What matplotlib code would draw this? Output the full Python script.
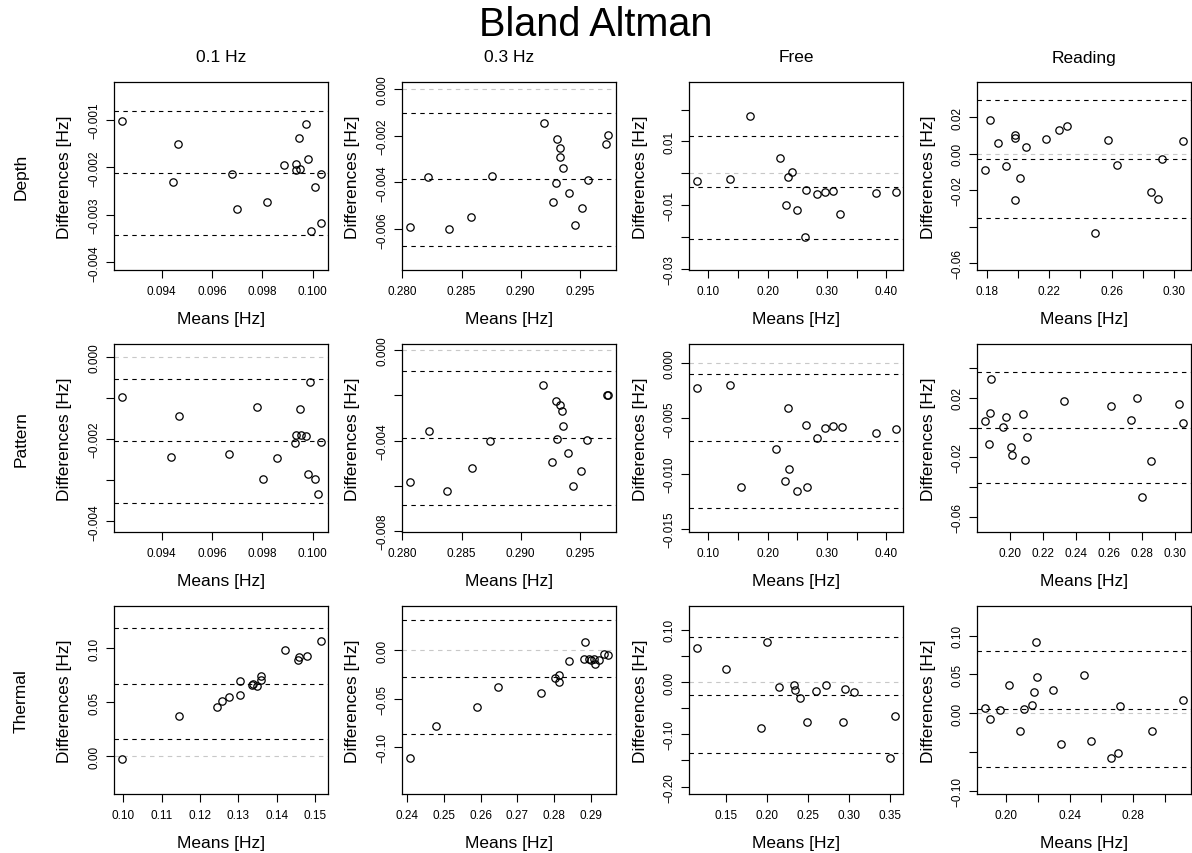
'''
Bland Altman grid: three methods x four conditions.
'''

import matplotlib
matplotlib.use("Agg")
import matplotlib.pyplot as plt

plt.rcParams["font.family"] = ["Liberation Sans", "DejaVu Sans"]

methods = ["Depth", "Pattern", "Thermal"]
conditions = ["0.1 Hz", "0.3 Hz", "Free", "Reading"]

# ---- Depth ----
depth_01_means = [0.09243, 0.09466, 0.09444, 0.09681, 0.09701, 0.09819, 0.09886, 0.09933, 0.09935,
                  0.09951, 0.09946, 0.09974, 0.09981, 0.09993, 0.10032, 0.10010, 0.10032]
depth_01_diffs = [-0.00102, -0.00152, -0.00231, -0.00214, -0.00287, -0.00272, -0.00196, -0.00205, -0.00194,
                  -0.00203, -0.00139, -0.00108, -0.00183, -0.00334, -0.00214, -0.00242, -0.00318]
depth_01_limits = [-0.002126, -0.000818, -0.003418]  # bias, upper, lower

depth_03_means = [0.28062, 0.28215, 0.28397, 0.28578, 0.28755, 0.29194, 0.29304, 0.29329, 0.29335,
                  0.29360, 0.29301, 0.29276, 0.29405, 0.29456, 0.29520, 0.29568, 0.29723, 0.29737]
depth_03_diffs = [-0.005902, -0.003774, -0.005986, -0.005475, -0.003716, -0.001461, -0.002156, -0.002511,
                  -0.002908, -0.003376, -0.004043, -0.004851, -0.004468, -0.005816, -0.005092, -0.003915,
                  -0.002355, -0.001957]
depth_03_limits = [-0.003872, -0.001021, -0.006709]

depth_free_means = [0.08094, 0.1371, 0.1698, 0.2204, 0.2339, 0.2411, 0.2310, 0.2491, 0.2626, 0.2643,
                    0.2828, 0.2963, 0.3103, 0.3226, 0.3828, 0.4160]
depth_free_diffs = [-0.002385, -0.001875, 0.01803, 0.004698, -0.00125, 0.00053, -0.01009, -0.01145,
                    -0.01989, -0.00541, -0.00666, -0.00603, -0.00561, -0.01270, -0.00614, -0.00594]
depth_free_limits = [-0.004375, 0.01178, -0.02072]

depth_read_means = [0.17839, 0.1818, 0.1868, 0.1919, 0.1981, 0.1981, 0.2009, 0.1981, 0.2050, 0.2176,
                    0.2264, 0.2313, 0.2491, 0.2575, 0.2635, 0.2853, 0.2900, 0.2926, 0.3059]
depth_read_diffs = [-0.00910, 0.01853, 0.00599, -0.00690, 0.01017, 0.00853, -0.01326, -0.02525, 0.00381,
                    0.00781, 0.01308, 0.01508, -0.04323, 0.00727, -0.00636, -0.02107, -0.02507, -0.00291,
                    0.00690]
depth_read_limits = [-0.002725, 0.02943, -0.03542]

# ---- Pattern ----
pattern_01_means = [0.09243, 0.09469, 0.09436, 0.09666, 0.09779, 0.09804, 0.09858, 0.09930, 0.09934,
                    0.09951, 0.09955, 0.09974, 0.09983, 0.09990, 0.10032, 0.10010, 0.10023]
pattern_01_diffs = [-0.000979, -0.001434, -0.00243, -0.002372, -0.00123, -0.00298, -0.00246, -0.002097,
                    -0.00191, -0.001264, -0.001895, -0.001927, -0.00286, -0.000622, -0.00208, -0.00298,
                    -0.00333]
pattern_01_limits = [-0.002056, -0.000549, -0.003548]

pattern_03_means = [0.28065, 0.28223, 0.28380, 0.28586, 0.28738, 0.29188, 0.29301, 0.29332, 0.29346,
                    0.29360, 0.29307, 0.29267, 0.29400, 0.29444, 0.29507, 0.29563, 0.29731, 0.29737]
pattern_03_diffs = [-0.00584, -0.00359, -0.00623, -0.00522, -0.00402, -0.001545, -0.002238, -0.002415,
                    -0.002693, -0.003342, -0.00393, -0.00496, -0.00455, -0.00599, -0.00536, -0.00396,
                    -0.001987, -0.00201]
pattern_03_limits = [-0.003885, -0.00094, -0.006843]

pattern_free_means = [0.08094, 0.1371, 0.1546, 0.2339, 0.2142, 0.2356, 0.2288, 0.2491, 0.2665, 0.2643,
                      0.2828, 0.2963, 0.3103, 0.3260, 0.3828, 0.4160]
pattern_free_diffs = [-0.00224, -0.00197, -0.01125, -0.00408, -0.00774, -0.00961, -0.01070, -0.01161,
                      -0.01125, -0.00560, -0.00677, -0.00590, -0.00566, -0.00580, -0.00632, -0.00593]
pattern_free_limits = [-0.007046, -0.00097, -0.013095]

pattern_read_means = [0.18470, 0.18809, 0.18851, 0.18730, 0.19559, 0.19740, 0.20079, 0.20139, 0.20768,
                      0.20889, 0.21028, 0.23284, 0.26126, 0.27336, 0.27681, 0.27965, 0.28527, 0.30239,
                      0.30462]
pattern_read_diffs = [0.0043, 0.00966, 0.03268, -0.01094, 0.00067, 0.00718, -0.01315, -0.01852, 0.0094,
                      -0.02148, -0.00644, 0.01812, 0.01436, 0.00497, 0.01973, -0.04671, -0.02215, 0.0157,
                      0.00315]
pattern_read_limits = [0.0001, 0.03718, -0.03691]

# ---- Thermal ----
thermal_01_means = [0.09974, 0.11445, 0.12452, 0.12583, 0.12750, 0.13037, 0.13052, 0.13350, 0.13392,
                    0.13480, 0.13585, 0.13585, 0.14227, 0.14550, 0.14576, 0.14785, 0.15150]
thermal_01_diffs = [-0.0025, 0.03759, 0.04593, 0.05093, 0.05491, 0.06944, 0.05704, 0.06602, 0.06722,
                    0.06537, 0.07435, 0.07065, 0.09815, 0.08944, 0.09167, 0.09259, 0.10676]
thermal_01_limits = [0.06694, 0.11852, 0.01574]

thermal_03_means = [0.24065, 0.24791, 0.25909, 0.26473, 0.27654, 0.28028, 0.28145, 0.28129, 0.28401,
                    0.28846, 0.28810, 0.28947, 0.29018, 0.29083, 0.29127, 0.29236, 0.29356, 0.29473]
thermal_03_diffs = [-0.11138, -0.07797, -0.05864, -0.03764, -0.04385, -0.02865, -0.02585, -0.03309,
                    -0.01075, 0.00889, -0.009, -0.0093, -0.01003, -0.009, -0.01417, -0.01003, -0.00352,
                    -0.00517]
thermal_03_limits = [-0.0273, 0.03164, -0.08625]

thermal_free_means = [0.11463, 0.15037, 0.19963, 0.19305, 0.21427, 0.23329, 0.23451, 0.24024, 0.24915,
                      0.26012, 0.27159, 0.29305, 0.29512, 0.30610, 0.34963, 0.35646]
thermal_free_diffs = [0.06501, 0.02428, 0.07648, -0.08795, -0.01013, -0.00516, -0.0153, -0.03117,
                      -0.07648, -0.01721, -0.00516, -0.07648, -0.01338, -0.01855, -0.14474, -0.06501]
thermal_free_limits = [-0.02486, 0.08547, -0.13518]

thermal_read_means = [0.18679, 0.18994, 0.19642, 0.20208, 0.20881, 0.21113, 0.21654, 0.21742, 0.21931,
                      0.21887, 0.22937, 0.23478, 0.24887, 0.25346, 0.26585, 0.27044, 0.27170, 0.29201,
                      0.31113]
thermal_read_diffs = [0.00644, -0.00695, 0.00425, 0.03605, -0.02318, 0.00592, 0.01069, 0.02781, 0.04635,
                      0.0918, 0.03, -0.03914, 0.04893, -0.03566, -0.05717, -0.05111, 0.00901, -0.0224,
                      0.01674]
thermal_read_limits = [0.00515, 0.07983, -0.06914]

# ---- tick values and labels ("" = tick without label, as R drops overlapping ones) ----
x_01 = [0.094, 0.096, 0.098, 0.100]
x_01_lab = ["0.094", "0.096", "0.098", "0.100"]
x_03 = [0.280, 0.285, 0.290, 0.295]
x_03_lab = ["0.280", "0.285", "0.290", "0.295"]
x_free = [0.10, 0.15, 0.20, 0.25, 0.30, 0.35, 0.40]
x_free_lab = ["0.10", "", "0.20", "", "0.30", "", "0.40"]

panels = [
    # Depth
    dict(m=depth_01_means, d=depth_01_diffs, lim=depth_01_limits,
         xlim=(0.09210, 0.10061), ylim=(-0.004161, -0.000205),
         xt=x_01, xl=x_01_lab,
         yt=[-0.004, -0.003, -0.002, -0.001], yl=["-0.004", "-0.003", "-0.002", "-0.001"]),
    dict(m=depth_03_means, d=depth_03_diffs, lim=depth_03_limits,
         xlim=(0.27997, 0.29805), ylim=(-0.007745, 0.000298),
         xt=x_03, xl=x_03_lab,
         yt=[-0.006, -0.004, -0.002, 0.0], yl=["-0.006", "-0.004", "-0.002", "0.000"]),
    dict(m=depth_free_means, d=depth_free_diffs, lim=depth_free_limits,
         xlim=(0.06745, 0.4283), ylim=(-0.0304, 0.02866),
         xt=x_free, xl=x_free_lab,
         yt=[-0.03, -0.02, -0.01, 0.0, 0.01, 0.02], yl=["-0.03", "", "-0.01", "", "0.01", ""]),
    dict(m=depth_read_means, d=depth_read_diffs, lim=depth_read_limits,
         xlim=(0.17344, 0.3111), ylim=(-0.06376, 0.03924),
         xt=[0.18, 0.20, 0.22, 0.24, 0.26, 0.28, 0.30], xl=["0.18", "", "0.22", "", "0.26", "", "0.30"],
         yt=[-0.06, -0.04, -0.02, 0.0, 0.02], yl=["-0.06", "", "-0.02", "0.00", "0.02"]),
    # Pattern
    dict(m=pattern_01_means, d=pattern_01_diffs, lim=pattern_01_limits,
         xlim=(0.09210, 0.10061), ylim=(-0.00426, 0.000309),
         xt=x_01, xl=x_01_lab,
         yt=[-0.004, -0.003, -0.002, -0.001, 0.0], yl=["-0.004", "", "-0.002", "", "0.000"]),
    dict(m=pattern_03_means, d=pattern_03_diffs, lim=pattern_03_limits,
         xlim=(0.27997, 0.29805), ylim=(-0.008044, 0.000265),
         xt=x_03, xl=x_03_lab,
         yt=[-0.008, -0.006, -0.004, -0.002, 0.0], yl=["-0.008", "", "-0.004", "", "0.000"]),
    dict(m=pattern_free_means, d=pattern_free_diffs, lim=pattern_free_limits,
         xlim=(0.06745, 0.4283), ylim=(-0.0153, 0.00175),
         xt=x_free, xl=x_free_lab,
         yt=[-0.015, -0.010, -0.005, 0.0], yl=["-0.015", "-0.010", "-0.005", "0.000"]),
    dict(m=pattern_read_means, d=pattern_read_diffs, lim=pattern_read_limits,
         xlim=(0.18004, 0.30946), ylim=(-0.07, 0.05617),
         xt=[0.20, 0.22, 0.24, 0.26, 0.28, 0.30], xl=["0.20", "0.22", "0.24", "0.26", "0.28", "0.30"],
         yt=[-0.06, -0.04, -0.02, 0.0, 0.02, 0.04], yl=["-0.06", "", "-0.02", "", "0.02", ""]),
    # Thermal
    dict(m=thermal_01_means, d=thermal_01_diffs, lim=thermal_01_limits,
         xlim=(0.09757, 0.15340), ylim=(-0.0349, 0.13917),
         xt=[0.10, 0.11, 0.12, 0.13, 0.14, 0.15], xl=["0.10", "0.11", "0.12", "0.13", "0.14", "0.15"],
         yt=[0.0, 0.05, 0.10], yl=["0.00", "0.05", "0.10"]),
    dict(m=thermal_03_means, d=thermal_03_diffs, lim=thermal_03_limits,
         xlim=(0.23855, 0.29691), ylim=(-0.1486, 0.04581),
         xt=[0.24, 0.25, 0.26, 0.27, 0.28, 0.29], xl=["0.24", "0.25", "0.26", "0.27", "0.28", "0.29"],
         yt=[-0.10, -0.05, 0.0], yl=["-0.10", "-0.05", "0.00"]),
    dict(m=thermal_free_means, d=thermal_free_diffs, lim=thermal_free_limits,
         xlim=(0.10488, 0.36585), ylim=(-0.2141, 0.1453),
         xt=[0.15, 0.20, 0.25, 0.30, 0.35], xl=["0.15", "0.20", "0.25", "0.30", "0.35"],
         yt=[-0.20, -0.15, -0.10, -0.05, 0.0, 0.05, 0.10],
         yl=["-0.20", "", "-0.10", "", "0.00", "", "0.10"]),
    dict(m=thermal_read_means, d=thermal_read_diffs, lim=thermal_read_limits,
         xlim=(0.18176, 0.31635), ylim=(-0.1039, 0.13815),
         xt=[0.20, 0.22, 0.24, 0.26, 0.28, 0.30], xl=["0.20", "", "0.24", "", "0.28", ""],
         yt=[-0.10, -0.05, 0.0, 0.05, 0.10], yl=["-0.10", "", "0.00", "0.05", "0.10"]),
]


def fix_minus(labels):
    return [s.replace("-", "\u2212") for s in labels]


def main():
    W, H = 1192, 854
    fig = plt.figure(figsize=(W / 100, H / 100), dpi=100)

    col_left = [114, 402, 689, 977]
    row_top = [83, 345, 607]
    pw, ph = 214, 188

    fig.text(596 / W, 1 - 25 / H, "Bland Altman", ha="center", va="center", fontsize=28.5)

    for i, method in enumerate(methods):
        for j, cond in enumerate(conditions):
            p = panels[i * 4 + j]
            L, T = col_left[j], row_top[i]
            ax = fig.add_axes([L / W, 1 - (T + ph) / H, pw / W, ph / H])

            ax.plot(p["m"], p["d"], "o", mfc="none", mec="black", ms=5.3, mew=0.9, zorder=3)

            if p["ylim"][0] < 0 < p["ylim"][1]:
                ax.axhline(0, color="#c8c8c8", lw=0.8, ls=(0, (4, 4)), zorder=1)
            for v in p["lim"]:
                ax.axhline(v, color="black", lw=0.8, ls=(0, (4, 4)), zorder=2)

            ax.set_xlim(p["xlim"])
            ax.set_ylim(p["ylim"])
            ax.set_xticks(p["xt"])
            ax.set_xticklabels(fix_minus(p["xl"]))
            ax.set_yticks(p["yt"])
            ax.set_yticklabels(fix_minus(p["yl"]), rotation=90, va="center")
            ax.tick_params(length=6, width=0.8, labelsize=8.5, direction="out")
            ax.tick_params(axis="x", pad=5)
            ax.tick_params(axis="y", pad=4)
            for s in ax.spines.values():
                s.set_linewidth(0.9)

            # axis labels placed like R's mtext lines
            fig.text((L - 49) / W, 1 - (T + ph / 2) / H, "Differences [Hz]",
                     rotation=90, ha="center", va="center", fontsize=12.5)
            fig.text((L + pw / 2) / W, 1 - (T + ph + 49) / H, "Means [Hz]",
                     ha="center", va="center", fontsize=12.5)
            if i == 0:
                fig.text((L + pw / 2) / W, 1 - 58 / H, cond, ha="center", va="center", fontsize=12.5)
            if j == 0:
                fig.text(21 / W, 1 - (T + ph / 2) / H, method, rotation=90,
                         ha="center", va="center", fontsize=12.5)

    fig.savefig("out.png", dpi=100)


if __name__ == "__main__":
    main()
